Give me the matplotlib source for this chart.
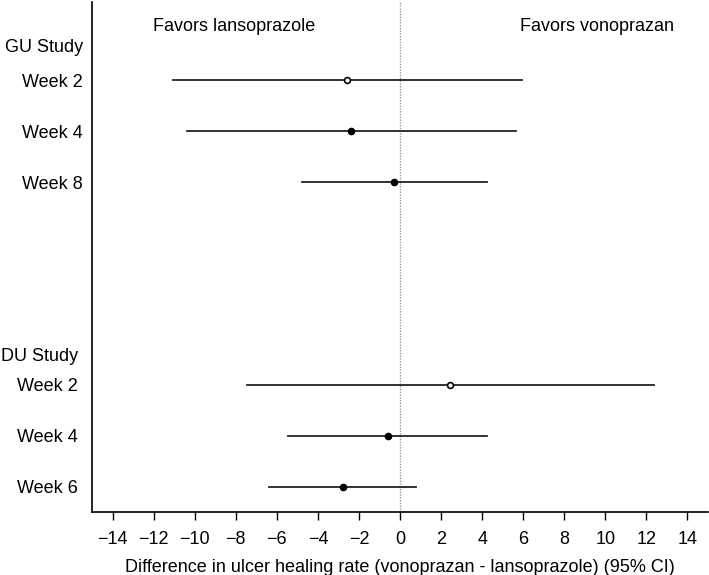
import numpy as np
import matplotlib
matplotlib.use("Agg")
import matplotlib.pyplot as plt

plt.rcParams['font.family'] = ['Liberation Sans', 'DejaVu Sans']

# rows (top to bottom)
labels = ["Week 2", "Week 4", "Week 8", "Week 2", "Week 4", "Week 6"]
ypos = [1.53, 2.53, 3.53, 7.51, 8.51, 9.51]
diff = [-2.57, -2.37, -0.27, 2.42, -0.58, -2.78]
lower = [-11.07, -10.37, -4.76, -7.44, -5.46, -6.37]
upper = [5.94, 5.64, 4.23, 12.36, 4.23, 0.80]
open_marker = [True, False, False, True, False, False]
row_group = [0, 0, 0, 1, 1, 1]

groups = ["GU Study", "DU Study"]
group_y = [0.86, 6.92]
label_x = [-0.0146, -0.0227]  # right edge of label column, GU vs DU block

fig = plt.figure(figsize=(7.09, 5.75), dpi=100)
ax = fig.add_axes([0.1298, 0.1096, 0.8688, 0.8869])

ax.axvline(0, color="#999999", lw=1, ls=(0, (1, 1)), zorder=1)

for i in range(len(labels)):
    ax.plot([lower[i], upper[i]], [ypos[i], ypos[i]], color="#222222", lw=1.3, zorder=2)
    if open_marker[i]:
        ax.plot(diff[i], ypos[i], "o", ms=4.2, mfc="white", mec="black", mew=1.2, zorder=3)
    else:
        ax.plot(diff[i], ypos[i], "o", ms=4.5, color="black", zorder=3)
    ax.text(label_x[row_group[i]], ypos[i], labels[i], transform=ax.get_yaxis_transform(),
            ha="right", va="center_baseline", fontsize=13)

for g, gy, lx in zip(groups, group_y, label_x):
    ax.text(lx, gy, g, transform=ax.get_yaxis_transform(), ha="right", va="center_baseline", fontsize=13)

ax.set_xlim(-15, 15)
ax.set_ylim(10, 0)
ax.set_xticks(np.arange(-14, 15, 2))
ax.tick_params(axis="x", length=5.5, width=1, labelsize=13, pad=8)
ax.set_yticks([])

ax.text(-8.1, 0.45, "Favors lansoprazole", ha="center", va="center_baseline", fontsize=13)
ax.text(9.6, 0.45, "Favors vonoprazan", ha="center", va="center_baseline", fontsize=13)

ax.spines["top"].set_visible(False)
ax.spines["right"].set_visible(False)
ax.spines["left"].set_linewidth(1.2)
ax.spines["bottom"].set_linewidth(1.2)

ax.set_xlabel("Difference in ulcer healing rate (vonoprazan - lansoprazole) (95% CI)", fontsize=13, labelpad=8)

fig.savefig("out.png", dpi=100)
